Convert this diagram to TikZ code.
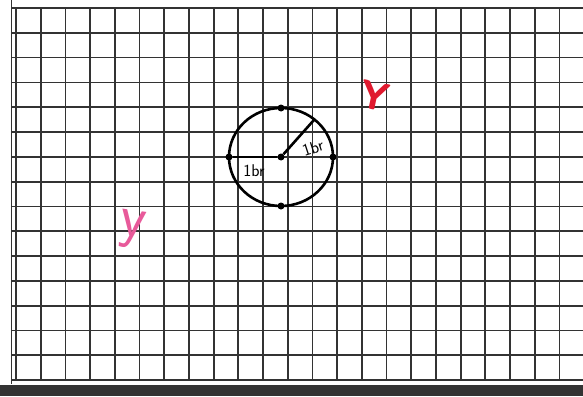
\documentclass[tikz,border=0pt]{standalone}
\usepackage{tikz}
\usetikzlibrary{positioning,calc}
\definecolor{gridgray}{HTML}{333333}
\definecolor{inkred}{HTML}{E0192E}
\definecolor{inkpink}{HTML}{E85A9A}

\begin{document}
\begin{tikzpicture}[
  x=1pt,y=-1pt,
  gridline/.style={gridgray,line width=1.8pt},
  ink/.style={black,line width=2.6pt},
  pt/.style={circle,fill=black,inner sep=0pt,minimum size=7pt},
  lbl/.style={font=\sffamily\fontsize{17}{17}\selectfont,inner sep=0pt}
]
  \useasboundingbox (0,0) rectangle (583,396);
  \fill[white] (0,0) rectangle (583,396);

  % squared paper
  \foreach \i in {0,...,23}
    \draw[gridline] ({16+24.7*\i},8) -- ({16+24.7*\i},381);
  \foreach \j in {0,...,15}
    \draw[gridline] (11,{8+24.8*\j}) -- (583,{8+24.8*\j});
  \draw[gridline,line width=1pt] (11,0) -- (11,384);
  \fill[gridgray] (0,385) rectangle (583,396);

  % circle with its radii
  \node[pt] (c) at (281,157) {};
  \draw[ink] (c) ellipse [x radius=52,y radius=49];
  \node[pt] (top)    at (281,108) {};
  \node[pt] (bottom) at (281,206) {};
  \node[pt] (left)   at (229,157) {};
  \node[pt] (right)  at (333,157) {};
  \coordinate (r) at ($(c)+(33.4,-37.5)$);
  \draw[ink] (left) -- (c);
  \draw[ink] (c) -- (r);
  \node[lbl] (l1) at (254,171) {1br};
  \node[lbl,rotate=18] (l2) at (313,148) {1br};

  % letters
  \node[text=inkred,font=\sffamily\bfseries\fontsize{40}{40}\selectfont,rotate=-12] (Y) at (375,96) {Y};
  \node[text=inkpink,font=\sffamily\fontsize{60}{60}\selectfont,rotate=-8] (y) at (132,230) {y};
\end{tikzpicture}
\end{document}
